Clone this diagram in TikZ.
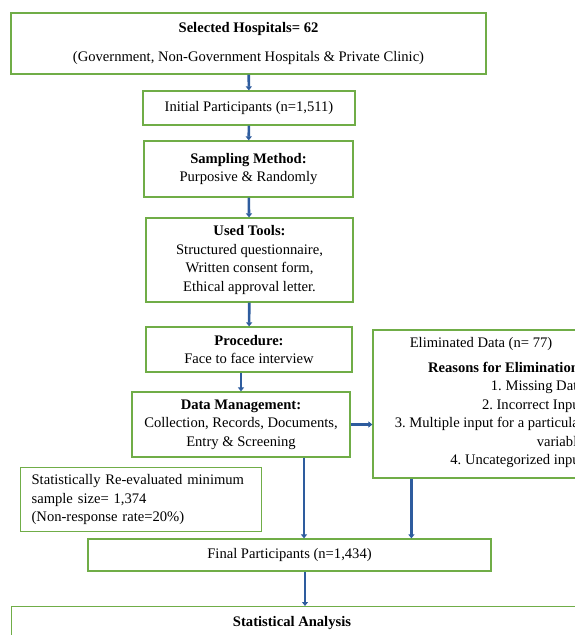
\documentclass[tikz,border=0pt]{standalone}
\usepackage{fontspec}
\setmainfont{Liberation Serif}
\usepackage{tikz}
\usetikzlibrary{arrows.meta, positioning, calc}
\usepackage{xcolor}
\definecolor{boxline}{HTML}{70AD47}
\definecolor{flow}{HTML}{2E5C9E}
\frenchspacing

\begin{document}
\begin{tikzpicture}[x=1pt, y=-1pt,
        every node/.style={font=\fontsize{14.6}{18.5}\selectfont, align=center, inner sep=0pt},
        box/.style={draw=boxline, line width=1.2pt, fill=white},
        txt/.style={draw=none},
        arr/.style={-{Triangle[length=4pt, width=6pt]}, line width=2.6pt, flow},
      ]
      \useasboundingbox (0,0) rectangle (575,635);
      \clip (0,0) rectangle (575,635);

      \node[box, minimum width=475pt, minimum height=61pt] (hosp) at (248.5,43.5)
        {\textbf{Selected Hospitals= 62}\\[10.5pt](Government, Non-Government Hospitals \& Private Clinic)};
      \node[box, minimum width=212pt, minimum height=34pt] (init) at (249,108)
        {Initial Participants (n=1,511)};
      \node[box, minimum width=209pt, minimum height=56pt] (samp) at (248.5,169)
        {\textbf{Sampling Method:}\\Purposive \& Randomly};
      \node[box, minimum width=207pt, minimum height=84pt] (tools) at (249.5,260)
        {\textbf{Used Tools:}\\Structured questionnaire,\\Written consent form,\\Ethical approval letter.};
      \node[box, minimum width=206pt, minimum height=45pt] (proc) at (249,349.5)
        {\textbf{Procedure:}\\Face to face interview};
      \node[box, minimum width=218pt, minimum height=65pt] (manage) at (241,424.5)
        {\textbf{Data Management:}\\Collection, Records, Documents,\\Entry \& Screening};

      \node[box, minimum width=227pt, minimum height=148pt] (elim) at (486.5,404) {};
      \node[txt] (elimhead) at (481,344) {Eliminated Data (n= 77)};
      \node[txt, align=right, anchor=north east] (reasons) at (584,362)
        {\textbf{Reasons for Elimination:}\\1. Missing Data\\2. Incorrect Input\\
         3. Multiple input for a particular\\variable\\4. Uncategorized input};

      \node[box, align=left, text width=219pt, minimum height=64pt, inner xsep=11pt,
            anchor=north west] (resample) at (20,467)
        {Statistically Re-evaluated minimum\\sample size= 1,374\\(Non-response rate=20\%)};

      \node[box, minimum width=403pt, minimum height=32pt] (final) at (289.5,555)
        {Final Participants (n=1,434)};
      \node[box, minimum width=600pt, minimum height=60pt, anchor=north west] (analysis) at (11,606) {};
      \node[txt] (analysistitle) at (292,623) {\textbf{Statistical Analysis}};

      \draw[arr] (hosp) -- (init);
      \draw[arr] (init) -- (samp);
      \draw[arr] (samp) -- (tools);
      \draw[arr] (tools) -- (proc);
      \draw[arr] (proc.south -| manage.north) -- (manage.north);
      \draw[arr] (manage.east) -- (manage.east -| elim.west);
      \draw[arr] ([xshift=63pt]manage.south) -- ([xshift=63pt]manage.south |- final.north);
      \draw[arr] ([xshift=39pt]elim.south west) -- ([xshift=39pt]elim.south west |- final.north);
      \draw[arr] ([xshift=15.5pt]final.south) -- ([xshift=15.5pt]final.south |- analysis.north);
    \end{tikzpicture}
\end{document}
